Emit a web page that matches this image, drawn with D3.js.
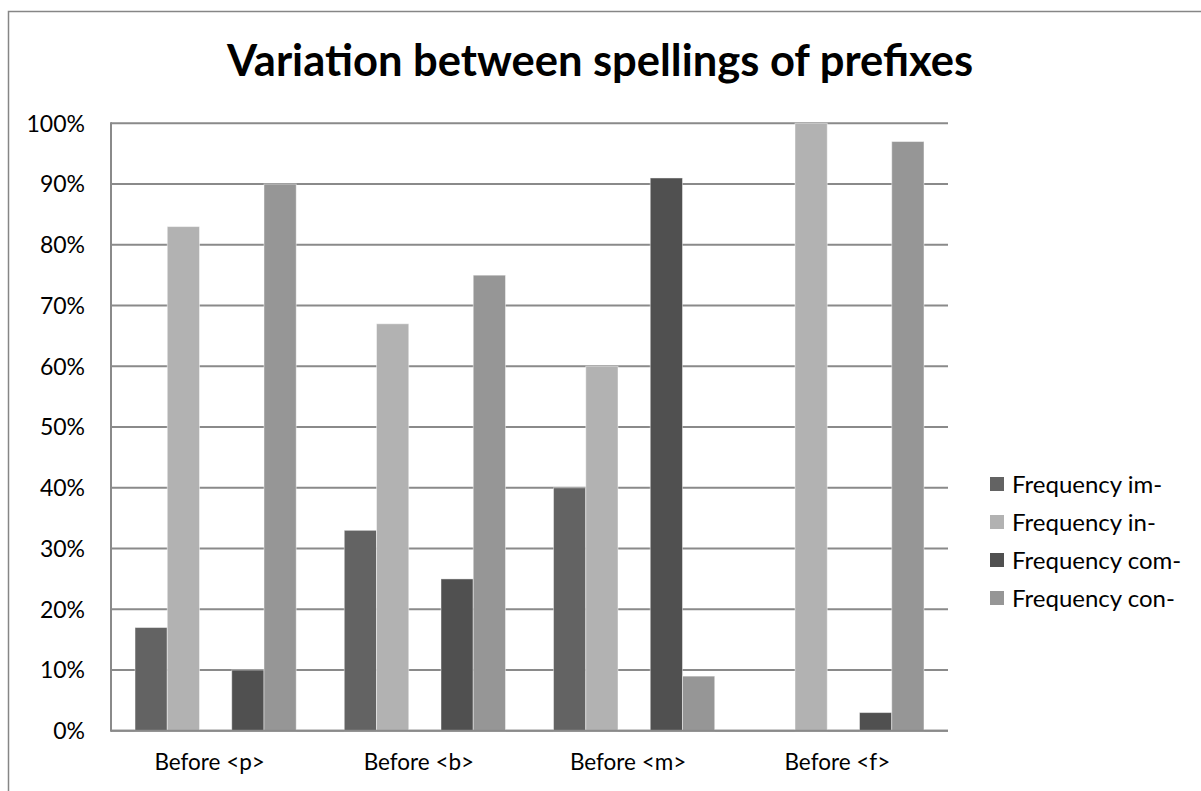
<!DOCTYPE html>
<html>
<head>
<meta charset="utf-8">
<script src="https://cdn.jsdelivr.net/npm/d3@7"></script>
<style>
  html, body { margin: 0; padding: 0; background: #fff; }
  svg { display: block; font-family: Lato, "Open Sans", sans-serif; }
</style>
</head>
<body>
<svg id="chart" width="1201" height="791"></svg>
<script>
// Categories along the x axis
const categories = ["Before <p>", "Before <b>", "Before <m>", "Before <f>"];

// Share of each spelling (percent) per category
const seriesNames = ["Frequency im-", "Frequency in-", "Frequency com-", "Frequency con-"];
const freqIm  = [17, 33, 40, 0];
const freqIn  = [83, 67, 60, 100];
const freqCom = [10, 25, 91, 3];
const freqCon = [90, 75, 9, 97];

// Bar slot within each cluster (the third slot is left empty)
const slots = ["im-", "in-", "", "com-", "con-"];
const seriesSlot = ["im-", "in-", "com-", "con-"];
const seriesColor = ["#636363", "#b2b2b2", "#505050", "#969696"];

const yTicks = [0, 10, 20, 30, 40, 50, 60, 70, 80, 90, 100];

const seriesValues = [freqIm, freqIn, freqCom, freqCon];

const svg = d3.select("#chart");

// Chart-area frame
svg.append("rect")
  .attr("x", 8.5).attr("y", 11.5)
  .attr("width", 1220).attr("height", 820)
  .attr("fill", "none").attr("stroke", "#868686").attr("stroke-width", 1.5);

// Title
svg.append("text")
  .attr("x", 600).attr("y", 76)
  .attr("text-anchor", "middle")
  .attr("font-weight", "bold")
  .attr("font-size", 43.5)
  .attr("fill", "#000")
  .text("Variation between spellings of prefixes");

const plot = { left: 111, right: 948, top: 123.3, bottom: 730.8 };

const x0 = d3.scaleBand().domain(categories).range([plot.left, plot.right]).padding(0);
const x1 = d3.scaleBand().domain(slots).range([0, x0.bandwidth()])
  .paddingInner(0).paddingOuter(0.745);
const y = d3.scaleLinear().domain([0, 100]).range([plot.bottom, plot.top]);

// Horizontal gridlines
svg.append("g").selectAll("line").data(yTicks).join("line")
  .attr("x1", plot.left).attr("x2", plot.right)
  .attr("y1", d => y(d)).attr("y2", d => y(d))
  .attr("stroke", "#8a8a8a").attr("stroke-width", 2);

// Vertical axis line
svg.append("line")
  .attr("x1", plot.left).attr("x2", plot.left)
  .attr("y1", plot.top - 1).attr("y2", plot.bottom + 1)
  .attr("stroke", "#8a8a8a").attr("stroke-width", 2);

// Y tick labels
svg.append("g").selectAll("text").data(yTicks).join("text")
  .attr("x", 85).attr("y", d => y(d))
  .attr("dy", "0.36em")
  .attr("text-anchor", "end")
  .attr("font-size", 23)
  .attr("fill", "#000")
  .text(d => d + "%");

// Bars
const bars = [];
categories.forEach((c, ci) => {
  seriesNames.forEach((s, si) => {
    bars.push({ cat: c, slot: seriesSlot[si], value: seriesValues[si][ci], color: seriesColor[si] });
  });
});

svg.append("g").selectAll("rect").data(bars.filter(d => d.value > 0)).join("rect")
  .attr("x", d => x0(d.cat) + x1(d.slot))
  .attr("y", d => y(d.value))
  .attr("width", x1.bandwidth())
  .attr("height", d => y(0) - y(d.value))
  .attr("fill", d => d.color)
  .attr("stroke", "rgba(255,255,255,0.45)")
  .attr("stroke-width", 1);

// Baseline over the bars
svg.append("line")
  .attr("x1", plot.left).attr("x2", plot.right)
  .attr("y1", y(0)).attr("y2", y(0))
  .attr("stroke", "#8a8a8a").attr("stroke-width", 2);

// Category labels
svg.append("g").selectAll("text").data(categories).join("text")
  .attr("x", d => x0(d) + x0.bandwidth() / 2 - 6)
  .attr("y", 770)
  .attr("text-anchor", "middle")
  .attr("font-size", 22.5)
  .attr("fill", "#000")
  .text(d => d);

// Legend
const legend = svg.append("g").selectAll("g").data(seriesNames).join("g")
  .attr("transform", (d, i) => `translate(990, ${484 + i * 38})`);
legend.append("rect")
  .attr("x", 0).attr("y", -7).attr("width", 14).attr("height", 14)
  .attr("fill", (d, i) => seriesColor[i]);
legend.append("text")
  .attr("x", 22).attr("y", 0).attr("dy", "0.36em")
  .attr("font-size", 24)
  .attr("fill", "#000")
  .text(d => d);
</script>
</body>
</html>
